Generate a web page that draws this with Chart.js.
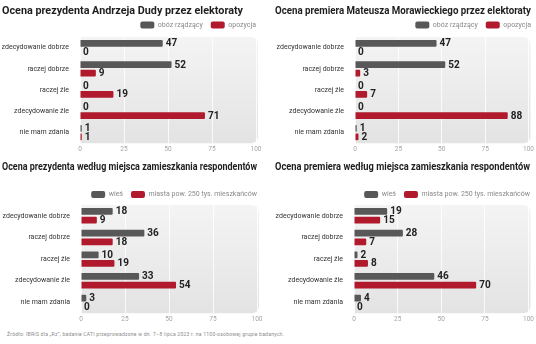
<!DOCTYPE html>
<html lang="pl">
<head>
  <meta charset="UTF-8">
  <title>Ocena prezydenta i premiera</title>
  <script src="https://cdn.jsdelivr.net/npm/chart.js@4.4.0/dist/chart.umd.min.js"></script>
  <style>
    body { margin: 0; width: 536px; height: 344px; background: #fff; position: relative; overflow: hidden; font-family: Roboto, sans-serif; }
    .panel { position: absolute; }
    #source { position: absolute; left: 7px; top: 331px; font-size: 5px; letter-spacing: 0.25px; color: #8a8a8a; white-space: nowrap; }
  </style>
</head>
<body>
  <div class="panel" style="left:0;top:0"><canvas id="c1" width="268" height="155"></canvas></div>
  <div class="panel" style="left:273px;top:0"><canvas id="c2" width="263" height="155"></canvas></div>
  <div class="panel" style="left:0;top:155px"><canvas id="c3" width="268" height="172"></canvas></div>
  <div class="panel" style="left:273px;top:155px"><canvas id="c4" width="263" height="172"></canvas></div>
  <div id="source">Źródło: IBRIS dla „Rz”, badanie CATI przeprowadzone w dn. 7–8 lipca 2023 r. na 1100-osobowej grupie badanych.</div>
  <script>
    // dane
    const categories = ['zdecydowanie dobrze', 'raczej dobrze', 'raczej źle', 'zdecydowanie źle', 'nie mam zdania'];
    const xTicks = [0, 25, 50, 75, 100];
    const electorateLabels = ['obóz rządzący', 'opozycja'];
    const residenceLabels = ['wieś', 'miasta pow. 250 tys. mieszkańców'];

    const dudaRuling = [47, 52, 0, 0, 1];
    const dudaOpposition = [0, 9, 19, 71, 1];
    const morawieckiRuling = [47, 52, 0, 0, 1];
    const morawieckiOpposition = [0, 3, 7, 88, 2];
    const dudaVillage = [18, 36, 10, 33, 3];
    const dudaCity = [9, 18, 19, 54, 0];
    const morawieckiVillage = [19, 28, 2, 46, 4];
    const morawieckiCity = [15, 7, 8, 70, 0];

    const FONT = 'Roboto, sans-serif';
    const GRAY = '#585858';
    const RED = '#b01a2c';
    const titleSize = 10.8;
    const labelSize = 7;
    const legendSize = 7;

    // szare tlo pola wykresu
    const plotBackground = {
      id: 'plotBackground',
      beforeDraw(chart) {
        const { ctx, chartArea: a } = chart;
        const g = ctx.createLinearGradient(0, a.top, 0, a.bottom);
        g.addColorStop(0, '#f4f4f4');
        g.addColorStop(1, '#e3e3e3');
        ctx.save();
        ctx.fillStyle = g;
        ctx.beginPath();
        ctx.roundRect(a.left, a.top, a.width + 2, a.height, [0, 7, 7, 0]);
        ctx.fill();
        ctx.restore();
      }
    };

    // liczby przy slupkach
    const valueLabels = {
      id: 'valueLabels',
      afterDatasetsDraw(chart) {
        const { ctx } = chart;
        ctx.save();
        ctx.font = 'bold 10px ' + FONT;
        ctx.fillStyle = '#222';
        ctx.textBaseline = 'middle';
        chart.data.datasets.forEach((ds, i) => {
          chart.getDatasetMeta(i).data.forEach((bar, j) => {
            ctx.fillText(ds.data[j], bar.x + 3, bar.y + 0.5);
          });
        });
        ctx.restore();
      }
    };

    // legenda ma konczyc sie przy prawej krawedzi pola
    const legendShift = {
      id: 'legendShift',
      afterLayout(chart) {
        chart.legend.left += 8;
        chart.legend.right += 8;
      }
    };

    function makeChart(id, title, names, first, second, p) {
      const titleLine = titleSize * 1.2;
      const itemHeight = Math.max(legendSize, 7);
      const titleTop = p.titleY - titleLine / 2;
      const legendTop = p.legendY - itemHeight / 2 - 8;
      return new Chart(document.getElementById(id), {
        type: 'bar',
        data: {
          labels: categories,
          datasets: [
            { label: names[0], data: first, backgroundColor: GRAY, borderRadius: 1,
              categoryPercentage: 0.8, barPercentage: 0.78 },
            { label: names[1], data: second, backgroundColor: RED, borderRadius: 1,
              categoryPercentage: 0.8, barPercentage: 0.78 }
          ]
        },
        options: {
          indexAxis: 'y',
          responsive: false,
          animation: false,
          layout: { padding: { left: 2, right: p.right, top: 0, bottom: p.bottom } },
          plugins: {
            title: {
              display: true,
              text: title,
              align: 'start',
              color: '#1e1e1e',
              font: { family: FONT, size: titleSize, weight: 'bold' },
              padding: { top: titleTop, bottom: legendTop - titleTop - titleLine }
            },
            legend: {
              position: 'top',
              align: 'end',
              maxHeight: p.plotTop - legendTop,
              labels: {
                color: '#8a8a8a',
                font: { family: FONT, size: legendSize },
                boxWidth: 14,
                boxHeight: 7,
                useBorderRadius: true,
                borderRadius: 2,
                padding: 8
              }
            },
            tooltip: { enabled: false }
          },
          scales: {
            x: {
              min: 0,
              max: 100,
              afterBuildTicks: s => { s.ticks = xTicks.map(v => ({ value: v })); },
              grid: { color: 'rgba(255,255,255,0.8)', drawTicks: false },
              border: { display: false },
              ticks: { color: '#a5a5a5', font: { family: FONT, size: 6.5 }, padding: 2 }
            },
            y: {
              afterFit: s => { s.width = p.plotLeft - 2; },
              grid: { display: false },
              border: { display: false },
              ticks: { color: '#333', font: { family: FONT, size: labelSize }, padding: 3 }
            }
          }
        },
        plugins: [plotBackground, valueLabels, legendShift]
      });
    }

    const topRow = { plotLeft: 80, right: 12, bottom: 0, titleY: 11, legendY: 25, plotTop: 37 };
    const bottomRow = { plotLeft: 81, right: 11, bottom: 2, titleY: 12, legendY: 39.5, plotTop: 50 };

    makeChart('c1', 'Ocena prezydenta Andrzeja Dudy przez elektoraty', electorateLabels, dudaRuling, dudaOpposition, topRow);
    makeChart('c2', 'Ocena premiera Mateusza Morawieckiego przez elektoraty', electorateLabels, morawieckiRuling, morawieckiOpposition,
      Object.assign({}, topRow, { plotLeft: 82, right: 5 }));
    makeChart('c3', 'Ocena prezydenta według miejsca zamieszkania respondentów', residenceLabels, dudaVillage, dudaCity, bottomRow);
    makeChart('c4', 'Ocena premiera według miejsca zamieszkania respondentów', residenceLabels, morawieckiVillage, morawieckiCity,
      Object.assign({}, bottomRow, { plotLeft: 81, right: 6 }));
  </script>
</body>
</html>
